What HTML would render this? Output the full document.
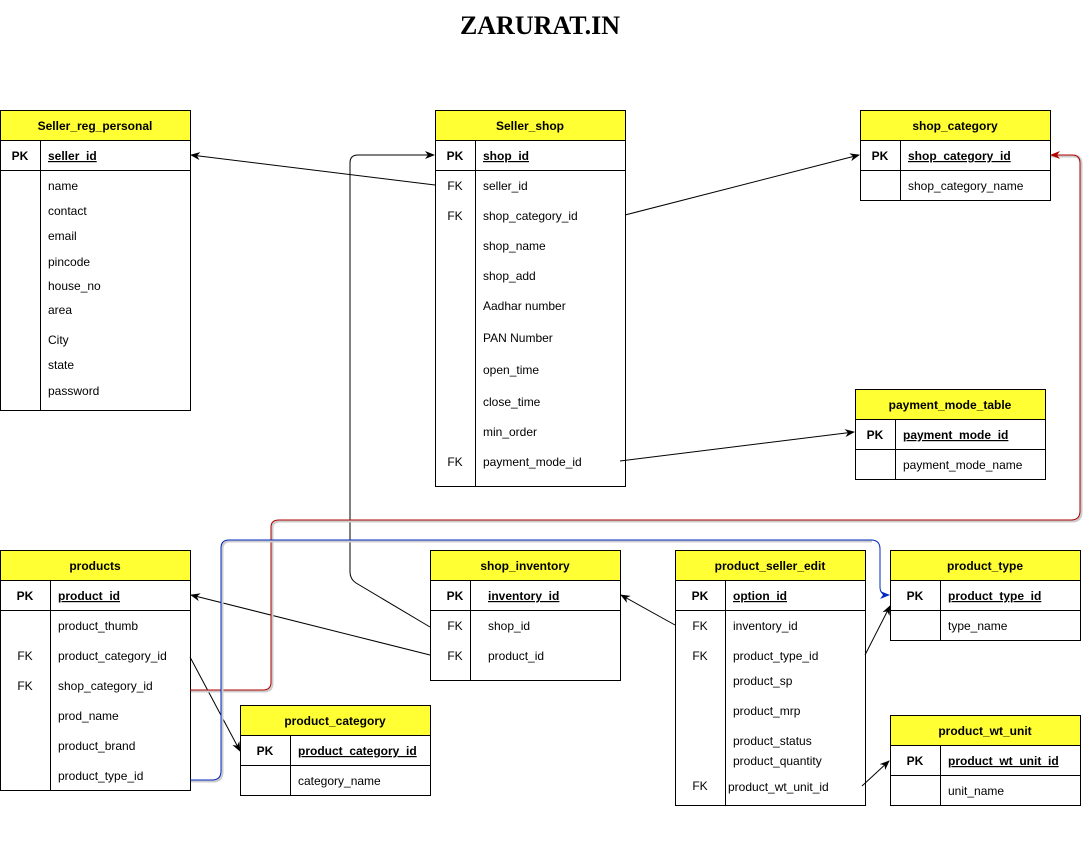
<!DOCTYPE html>
<html><head><meta charset="utf-8"><style>
html,body{margin:0;padding:0;background:#fff;width:1092px;height:842px;overflow:hidden}
svg{display:block}
text{font-family:"Liberation Sans",Arial,sans-serif;font-size:12px;fill:#000}
.h{font-weight:bold;text-anchor:middle}
.k{font-weight:bold;text-anchor:middle}
.kf{text-anchor:middle}
.pk{font-weight:bold;text-decoration:underline}
</style></head><body>
<svg width="1092" height="842" viewBox="0 0 1092 842" xmlns="http://www.w3.org/2000/svg">
<defs>
<marker id="a" markerWidth="10" markerHeight="8" refX="9" refY="4" orient="auto" markerUnits="userSpaceOnUse"><path d="M0,0 L10,4 L0,8 L3,4 Z" fill="#000"/></marker>
<marker id="r" markerWidth="10" markerHeight="8" refX="9" refY="4" orient="auto" markerUnits="userSpaceOnUse"><path d="M0,0 L10,4 L0,8 L3,4 Z" fill="#b20000"/></marker>
<marker id="b" markerWidth="10" markerHeight="8" refX="9" refY="4" orient="auto" markerUnits="userSpaceOnUse"><path d="M0,0 L10,4 L0,8 L3,4 Z" fill="#0027c2"/></marker>
</defs>
<text x="540" y="34" style="font-family:'Liberation Serif',serif;font-size:26px;font-weight:bold" text-anchor="middle">ZARURAT.IN</text>

<g fill="#fff" stroke="#000" stroke-width="1">
<!-- Seller_reg_personal -->
<rect x="0.5" y="110.5" width="190" height="300"/><rect x="0.5" y="110.5" width="190" height="30" fill="#ffff33"/>
<line x1="0.5" y1="170.5" x2="190.5" y2="170.5"/><line x1="40.5" y1="140.5" x2="40.5" y2="410.5"/>
<!-- Seller_shop -->
<rect x="435.5" y="110.5" width="190" height="376"/><rect x="435.5" y="110.5" width="190" height="30" fill="#ffff33"/>
<line x1="435.5" y1="170.5" x2="625.5" y2="170.5"/><line x1="475.5" y1="140.5" x2="475.5" y2="486.5"/>
<!-- shop_category -->
<rect x="860.5" y="110.5" width="190" height="90"/><rect x="860.5" y="110.5" width="190" height="30" fill="#ffff33"/>
<line x1="860.5" y1="170.5" x2="1050.5" y2="170.5"/><line x1="900.5" y1="140.5" x2="900.5" y2="200.5"/>
<!-- payment_mode_table -->
<rect x="855.5" y="389.5" width="190" height="90"/><rect x="855.5" y="389.5" width="190" height="30" fill="#ffff33"/>
<line x1="855.5" y1="449.5" x2="1045.5" y2="449.5"/><line x1="895.5" y1="419.5" x2="895.5" y2="479.5"/>
<!-- products -->
<rect x="0.5" y="550.5" width="190" height="240"/><rect x="0.5" y="550.5" width="190" height="30" fill="#ffff33"/>
<line x1="0.5" y1="610.5" x2="190.5" y2="610.5"/><line x1="50.5" y1="580.5" x2="50.5" y2="790.5"/>
<!-- shop_inventory -->
<rect x="430.5" y="550.5" width="190" height="130"/><rect x="430.5" y="550.5" width="190" height="30" fill="#ffff33"/>
<line x1="430.5" y1="610.5" x2="620.5" y2="610.5"/><line x1="470.5" y1="580.5" x2="470.5" y2="680.5"/>
<!-- product_seller_edit -->
<rect x="675.5" y="550.5" width="190" height="255"/><rect x="675.5" y="550.5" width="190" height="30" fill="#ffff33"/>
<line x1="675.5" y1="610.5" x2="865.5" y2="610.5"/><line x1="725.5" y1="580.5" x2="725.5" y2="805.5"/>
<!-- product_type -->
<rect x="890.5" y="550.5" width="190" height="90"/><rect x="890.5" y="550.5" width="190" height="30" fill="#ffff33"/>
<line x1="890.5" y1="610.5" x2="1080.5" y2="610.5"/><line x1="940.5" y1="580.5" x2="940.5" y2="640.5"/>
<!-- product_wt_unit -->
<rect x="890.5" y="715.5" width="190" height="90"/><rect x="890.5" y="715.5" width="190" height="30" fill="#ffff33"/>
<line x1="890.5" y1="775.5" x2="1080.5" y2="775.5"/><line x1="940.5" y1="745.5" x2="940.5" y2="805.5"/>
<!-- product_category -->
<rect x="240.5" y="705.5" width="190" height="90"/><rect x="240.5" y="705.5" width="190" height="30" fill="#ffff33"/>
<line x1="240.5" y1="765.5" x2="430.5" y2="765.5"/><line x1="290.5" y1="735.5" x2="290.5" y2="795.5"/>
</g>

<!-- connectors -->
<g fill="none" stroke-width="1">
<path d="M435,185 L191,155" stroke="#000" marker-end="url(#a)"/>
<path d="M625,215 L859,155" stroke="#000" marker-end="url(#a)"/>
<path d="M620,461 L854,432" stroke="#000" marker-end="url(#a)"/>
<path d="M430,627 L356,583 Q350,579 350,572 L350,163 Q350,155 358,155 L434,155" stroke="#000" marker-end="url(#a)"/>
<path d="M430,655 L191,595" stroke="#000" marker-end="url(#a)"/>
<path d="M675,625 L621,595" stroke="#000" marker-end="url(#a)"/>
<path d="M865,655 L890,606" stroke="#000" marker-end="url(#a)"/>
<path d="M862,786 L889,761" stroke="#000" marker-end="url(#a)"/>
<path d="M190,657 L240,751" stroke="#000" marker-end="url(#a)"/>
<path d="M191,691 L264,691 Q272,691 272,683 L272,528 Q272,521 280,521 L1072,521 Q1081,521 1081,512 L1081,164 Q1081,156 1073,156 L1051,156" stroke="#ccc" stroke-width="3"/>
<path d="M190,690 L263,690 Q271,690 271,682 L271,527 Q271,520 279,520 L1071,520 Q1080,520 1080,511 L1080,163 Q1080,155 1072,155 L1051,155" stroke="#b20000" marker-end="url(#r)"/>
<path d="M191,781 L213,781 Q222,781 222,772 L222,549 Q222,541 230,541 L872,541" stroke="#ccc" stroke-width="3"/>
<path d="M190,780 L212,780 Q221,780 221,771 L221,548 Q221,540 229,540 L871,540 Q880,540 880,549 L880,587 Q880,595 889,595" stroke="#0027c2" marker-end="url(#b)"/>
</g>

<!-- text -->
<text class="h" x="95" y="130">Seller_reg_personal</text>
<text class="k" x="20" y="160">PK</text><text class="pk" x="48" y="160">seller_id</text>
<text x="48" y="190">name</text><text x="48" y="215">contact</text><text x="48" y="240">email</text>
<text x="48" y="266">pincode</text><text x="48" y="290">house_no</text><text x="48" y="314">area</text>
<text x="48" y="344">City</text><text x="48" y="369">state</text><text x="48" y="395">password</text>

<text class="h" x="530" y="130">Seller_shop</text>
<text class="k" x="455" y="160">PK</text><text class="pk" x="483" y="160">shop_id</text>
<text class="kf" x="455" y="190">FK</text><text x="483" y="190">seller_id</text>
<text class="kf" x="455" y="220">FK</text><text x="483" y="220">shop_category_id</text>
<text x="483" y="250">shop_name</text><text x="483" y="280">shop_add</text>
<text x="483" y="310">Aadhar number</text><text x="483" y="342">PAN Number</text>
<text x="483" y="374">open_time</text><text x="483" y="406">close_time</text>
<text x="483" y="436">min_order</text>
<text class="kf" x="455" y="466">FK</text><text x="483" y="466">payment_mode_id</text>

<text class="h" x="955" y="130">shop_category</text>
<text class="k" x="880" y="160">PK</text><text class="pk" x="908" y="160">shop_category_id</text>
<text x="908" y="190">shop_category_name</text>

<text class="h" x="950" y="409">payment_mode_table</text>
<text class="k" x="875" y="439">PK</text><text class="pk" x="903" y="439">payment_mode_id</text>
<text x="903" y="469">payment_mode_name</text>

<text class="h" x="95" y="570">products</text>
<text class="k" x="25" y="600">PK</text><text class="pk" x="58" y="600">product_id</text>
<text x="58" y="630">product_thumb</text>
<text class="kf" x="25" y="660">FK</text><text x="58" y="660">product_category_id</text>
<text class="kf" x="25" y="690">FK</text><text x="58" y="690">shop_category_id</text>
<text x="58" y="720">prod_name</text><text x="58" y="750">product_brand</text><text x="58" y="780">product_type_id</text>

<text class="h" x="525" y="570">shop_inventory</text>
<text class="k" x="455" y="600">PK</text><text class="pk" x="488" y="600">inventory_id</text>
<text class="kf" x="455" y="630">FK</text><text x="488" y="630">shop_id</text>
<text class="kf" x="455" y="660">FK</text><text x="488" y="660">product_id</text>

<text class="h" x="770" y="570">product_seller_edit</text>
<text class="k" x="700" y="600">PK</text><text class="pk" x="733" y="600">option_id</text>
<text class="kf" x="700" y="630">FK</text><text x="733" y="630">inventory_id</text>
<text class="kf" x="700" y="660">FK</text><text x="733" y="660">product_type_id</text>
<text x="733" y="685">product_sp</text><text x="733" y="715">product_mrp</text>
<text x="733" y="745">product_status</text><text x="733" y="765">product_quantity</text>
<text class="kf" x="700" y="790">FK</text><text x="728" y="791">product_wt_unit_id</text>

<text class="h" x="985" y="570">product_type</text>
<text class="k" x="915" y="600">PK</text><text class="pk" x="948" y="600">product_type_id</text>
<text x="948" y="630">type_name</text>

<text class="h" x="985" y="735">product_wt_unit</text>
<text class="k" x="915" y="765">PK</text><text class="pk" x="948" y="765">product_wt_unit_id</text>
<text x="948" y="795">unit_name</text>

<text class="h" x="335" y="725">product_category</text>
<text class="k" x="265" y="755">PK</text><text class="pk" x="298" y="755">product_category_id</text>
<text x="298" y="785">category_name</text>
</svg>
</body></html>
